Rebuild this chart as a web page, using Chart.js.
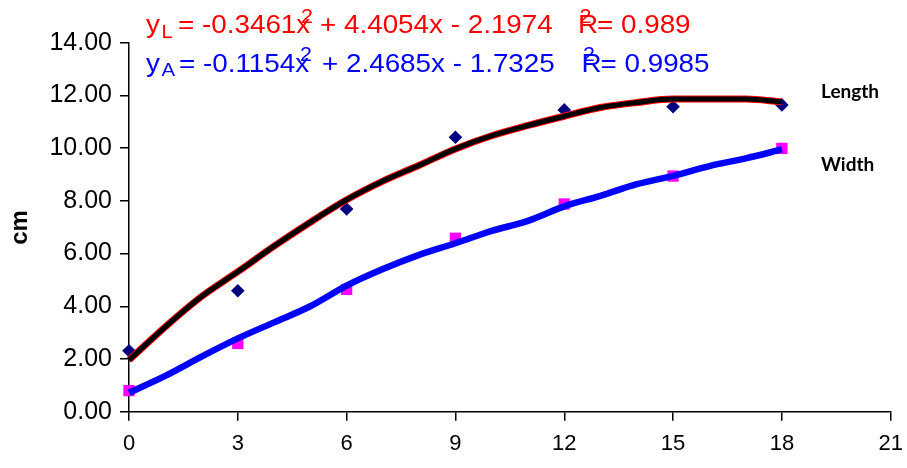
<!DOCTYPE html>
<html>
<head>
<meta charset="utf-8">
<script src="https://cdn.jsdelivr.net/npm/chart.js@4.4.1/dist/chart.umd.min.js"></script>
<style>
  html, body { margin: 0; padding: 0; background: #fff; }
  canvas { display: block; }
</style>
</head>
<body>
<canvas id="chart" width="907" height="468"></canvas>
<script>
// measured points (days vs cm)
const days = [0, 3, 6, 9, 12, 15, 18];
const lengthCm = [2.31, 4.59, 7.69, 10.41, 11.45, 11.57, 11.64];
const widthCm = [0.80, 2.59, 4.64, 6.58, 7.88, 8.94, 9.99];

// trend lines
const trendX = [0, 1, 2, 3, 4, 5, 6, 7, 8, 9, 10, 11, 12, 13, 14, 15, 16, 17, 18];
const lengthTrend = [1.96, 3.22, 4.37, 5.31, 6.28, 7.19, 8.04, 8.75, 9.35, 9.97, 10.47, 10.86, 11.21, 11.54, 11.73, 11.86, 11.86, 11.86, 11.76];
const widthTrend = [0.72, 1.36, 2.09, 2.78, 3.39, 4.00, 4.78, 5.41, 5.95, 6.39, 6.86, 7.24, 7.79, 8.19, 8.63, 8.95, 9.32, 9.61, 9.95];

const xMax = 21, xStep = 3;
const yMax = 14, yStep = 2;

const eqLength = ['L', '= -0.3461x', '+ 4.4054x - 2.1974', '= 0.989'];
const eqWidth = ['A', '= -0.1154x', '+ 2.4685x - 1.7325', '= 0.9985'];

const pts = (xs, ys) => xs.map((x, i) => ({ x: x, y: ys[i] }));

// text drawn on top: equations, axis title, series names
const textPlugin = {
  id: 'texts',
  afterDraw(chart) {
    const c = chart.ctx;
    const put = (s, x, y, size, color, weight, sx) => {
      c.save();
      c.font = (weight || 'normal') + ' ' + size + 'px "Liberation Sans", Arial, sans-serif';
      c.fillStyle = color;
      c.textBaseline = 'alphabetic';
      c.textAlign = 'left';
      c.translate(x, y);
      c.scale(sx || 1.07, 1);
      c.fillText(s, 0, 0);
      c.restore();
    };
    const eq = (parts, color, base, o) => {
      put('y', 146, base, 26, color);
      put(parts[0], 161.5, base + 4.3, 19, color);
      put(parts[1], o.eqX, base, 26, color);
      put('2', o.supX, base - 10.5, 20, color);
      put(parts[2], o.plusX, base, 26, color);
      put('R', o.rX, base, 26, color);
      put('2', o.rX + 1.5, base - 10.5, 20, color);
      put(parts[3], o.rX + 19, base, 26, color);
    };
    eq(eqLength, '#FF0000', 33.3, { eqX: 178, supX: 301, plusX: 320, rX: 578 });
    eq(eqWidth, '#0000FF', 71.7, { eqX: 179, supX: 300, plusX: 322, rX: 581.5 });

    // y axis title
    c.save();
    c.translate(27, 227.5);
    c.rotate(-Math.PI / 2);
    c.font = 'bold 24px "Liberation Sans", Arial, sans-serif';
    c.fillStyle = '#000';
    c.textAlign = 'center';
    c.textBaseline = 'alphabetic';
    c.fillText('cm', 0, 0);
    c.restore();

    c.save();
    c.font = 'bold 19px Lato, "Liberation Sans", sans-serif';
    c.fillStyle = '#000';
    c.textBaseline = 'alphabetic';
    c.fillText('Length', 821, 98);
    c.fillText('Width', 821, 171);
    c.restore();
  }
};

new Chart(document.getElementById('chart').getContext('2d'), {
  type: 'scatter',
  data: {
    datasets: [
      {
        label: 'Length',
        data: pts(days, lengthCm),
        pointStyle: 'rectRot',
        pointRadius: 6.8,
        backgroundColor: '#000080',
        borderColor: '#000080',
        borderWidth: 0,
        clip: false,
        order: 5
      },
      {
        label: 'Width',
        data: pts(days, widthCm),
        pointStyle: 'rect',
        pointRadius: 8,
        backgroundColor: '#FF00FF',
        borderColor: '#FF00FF',
        borderWidth: 0,
        clip: false,
        order: 5
      },
      {
        label: 'Length trend outline',
        data: pts(trendX, lengthTrend),
        showLine: true,
        pointRadius: 0,
        borderColor: '#FF0000',
        borderWidth: 7,
        cubicInterpolationMode: 'monotone',
        clip: false,
        order: 3
      },
      {
        label: 'Length trend',
        data: pts(trendX, lengthTrend),
        showLine: true,
        pointRadius: 0,
        borderColor: '#000000',
        borderWidth: 5,
        cubicInterpolationMode: 'monotone',
        clip: false,
        order: 2
      },
      {
        label: 'Width trend',
        data: pts(trendX, widthTrend),
        showLine: true,
        pointRadius: 0,
        borderColor: '#0000FF',
        borderWidth: 6.5,
        cubicInterpolationMode: 'monotone',
        clip: false,
        order: 1
      }
    ]
  },
  options: {
    responsive: false,
    animation: false,
    devicePixelRatio: 1,
    layout: { padding: { top: 42.7, right: 16.3, left: 0, bottom: 0 } },
    plugins: {
      legend: { display: false },
      tooltip: { enabled: false }
    },
    scales: {
      x: {
        type: 'linear',
        min: 0,
        max: xMax,
        afterFit: s => { s.height = 56.3; s.paddingLeft = 0; s.paddingRight = 0; },
        ticks: {
          stepSize: xStep,
          color: '#000',
          padding: 10,
          font: { family: '"Liberation Sans Narrow", "Liberation Sans", sans-serif', size: 22 }
        },
        grid: { drawOnChartArea: false, tickLength: 9, color: '#000', lineWidth: 1.5 },
        border: { color: '#000', width: 1.5 }
      },
      y: {
        min: 0,
        max: yMax,
        afterFit: s => { s.width = 129; s.paddingTop = 0; s.paddingBottom = 0; },
        ticks: {
          stepSize: yStep,
          color: '#000',
          padding: 8,
          callback: v => v.toFixed(2),
          font: { family: '"Liberation Sans", Arial, sans-serif', size: 25 }
        },
        grid: { drawOnChartArea: false, tickLength: 9, color: '#000', lineWidth: 1.5 },
        border: { color: '#000', width: 1.5 }
      }
    }
  },
  plugins: [textPlugin]
});
</script>
</body>
</html>
